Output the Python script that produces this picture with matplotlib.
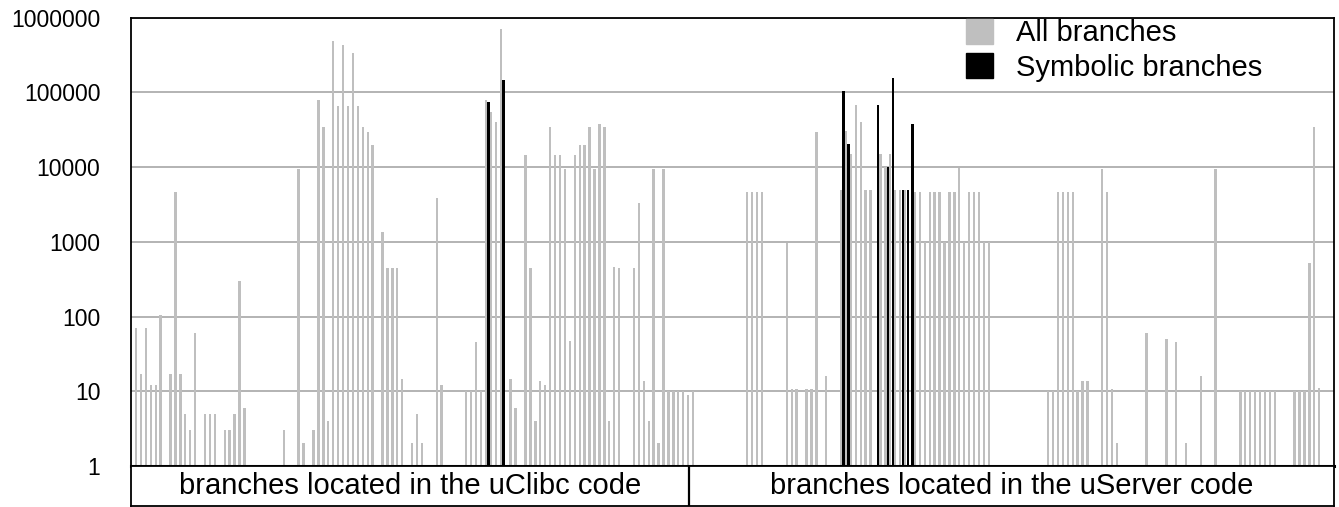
import numpy as np
import matplotlib.pyplot as plt
from matplotlib.patches import Patch
from matplotlib.ticker import FixedLocator, NullLocator

plt.rcParams['font.family'] = ['Liberation Sans', 'DejaVu Sans']

W, H = 1339, 507

# %% data: one slot per branch (gray = all branches, black = symbolic)
all_slots = [0, 1, 2, 3, 4, 5, 7, 8, 9, 10, 11, 12, 14, 15, 16, 18, 19, 20, 21, 22,
             30, 33, 34, 36, 37, 38, 39, 40, 41, 42, 43, 44, 45, 46, 47, 48,
             50, 51, 52, 53, 54, 56, 57, 58, 61, 62, 67, 68, 69, 70,
             71, 72, 73, 74, 76, 77, 79, 80, 81, 82, 83, 84, 85, 86, 87, 88,
             89, 90, 91, 92, 93, 94, 95, 96, 97, 98, 101, 102, 103, 104, 105,
             106, 107, 108, 109, 110, 111, 112, 113,
             124, 125, 126, 127, 132, 133, 134, 136, 137, 138, 140,
             143, 144, 145, 146, 147, 148, 149, 151, 152, 153, 154, 155, 156,
             158, 159, 160, 161, 162, 163, 164, 165, 166, 167, 168, 169, 170,
             171, 172, 173,
             185, 186, 187, 188, 189, 190, 191, 192, 193,
             196, 197, 198, 199, 205, 209, 211, 213, 216, 219,
             224, 225, 226, 227, 228, 229, 230, 231, 235, 236, 237, 238, 239, 240]
all_vals = [70, 17, 70, 12, 12, 105, 17, 4700, 17, 5, 3, 60, 5, 5, 5, 3, 3, 5, 300, 6,
            3, 9500, 2, 3, 78000, 34000, 4, 480000, 66000, 425000, 66000, 335000, 66000, 34000, 29000, 19500,
            1330, 445, 445, 445, 14.5, 2, 5, 2, 3800, 12, 10, 10, 46, 10,
            79000, 55000, 40000, 710000, 14.5, 6, 14300, 445, 4, 13.6, 12, 34000, 14300, 14300, 9500, 47,
            14300, 19500, 19500, 34000, 9500, 38000, 34000, 4, 460, 445, 445, 3300, 13.6, 4, 9500,
            2, 9500, 10, 10, 10, 10, 9, 10,
            4700, 4700, 4700, 4700, 950, 10.6, 10.6, 10.6, 10.6, 29000, 16,
            4850, 30000, 14700, 68000, 40000, 4850, 4850, 14700, 10000, 14700, 4850, 4850, 4850,
            4700, 4700, 1000, 4700, 4700, 4700, 1000, 4700, 4700, 9700, 1000, 4700, 4700,
            4700, 1000, 1000,
            10, 10, 4700, 4700, 4700, 4700, 10, 13.6, 13.6,
            9500, 4700, 10.6, 2, 60, 50, 45, 2, 16, 9500,
            10, 10, 10, 10, 10, 10, 10, 10, 10, 10, 10, 520, 34000, 11]

sym_slots = [71, 74, 143, 144, 150, 152, 153, 155, 156, 157]
sym_vals = [74000, 147000, 104000, 20000, 68000, 10000, 154000, 4850, 4850, 38000]

yticks = [1, 10, 100, 1000, 10000, 100000, 1000000]
ytick_labels = ['1', '10', '100', '1000', '10000', '100000', '1000000']
legend_labels = ['All branches', 'Symbolic branches']
part_labels = ['branches located in the uClibc code', 'branches located in the uServer code']

# %% plot
fig = plt.figure(figsize=(W / 100, H / 100), dpi=100)
ax = fig.add_axes([131 / W, 1 - 466 / H, 1203 / W, (466 - 17.5) / H])
lab = fig.add_axes([131 / W, 1 - 505.5 / H, 1203 / W, (505.5 - 466) / H])

gray = '#bfbfbf'
ax.bar(all_slots, all_vals, width=0.48, color=gray, linewidth=0, label=legend_labels[0])
ax.bar(np.array(sym_slots) + 0.55, sym_vals, width=0.5, color='black', linewidth=0,
       label=legend_labels[1])

ax.set_yscale('log')
ax.set_ylim(1, 1e6)
ax.set_xlim(-1.01, 243.0)
ax.yaxis.set_major_locator(FixedLocator(yticks))
ax.yaxis.set_minor_locator(NullLocator())
ax.set_yticklabels(ytick_labels)
ax.set_xticks([])
ax.tick_params(axis='y', length=0, pad=22, labelsize=16.5)
ax.yaxis.grid(True, color='#b3b3b3', linewidth=1.4)
ax.set_axisbelow(True)
for s in ['left', 'top', 'right']:
    ax.spines[s].set_linewidth(1.3)
ax.spines['bottom'].set_linewidth(2.2)

handles = [Patch(color=gray), Patch(color='black')]
ax.legend(handles, legend_labels, loc='upper left', bbox_to_anchor=(0.6925, 1.0),
          frameon=False, fontsize=21, handlelength=0.93, handleheight=0.93,
          handletextpad=0.8, labelspacing=0.2, borderpad=0, borderaxespad=0.05)

# label row under the bars
lab.set_xlim(0, 1)
lab.set_ylim(0, 1)
lab.set_xticks([])
lab.set_yticks([])
for s in lab.spines.values():
    s.set_linewidth(1.3)
div = (689 - 131) / 1203
lab.axvline(div, color='black', linewidth=1.6)
lab.text(div / 2, 0.5, part_labels[0], ha='center', va='center', fontsize=21)
lab.text((div + 1) / 2, 0.5, part_labels[1], ha='center', va='center', fontsize=21)

fig.savefig('out.png', dpi=100)
